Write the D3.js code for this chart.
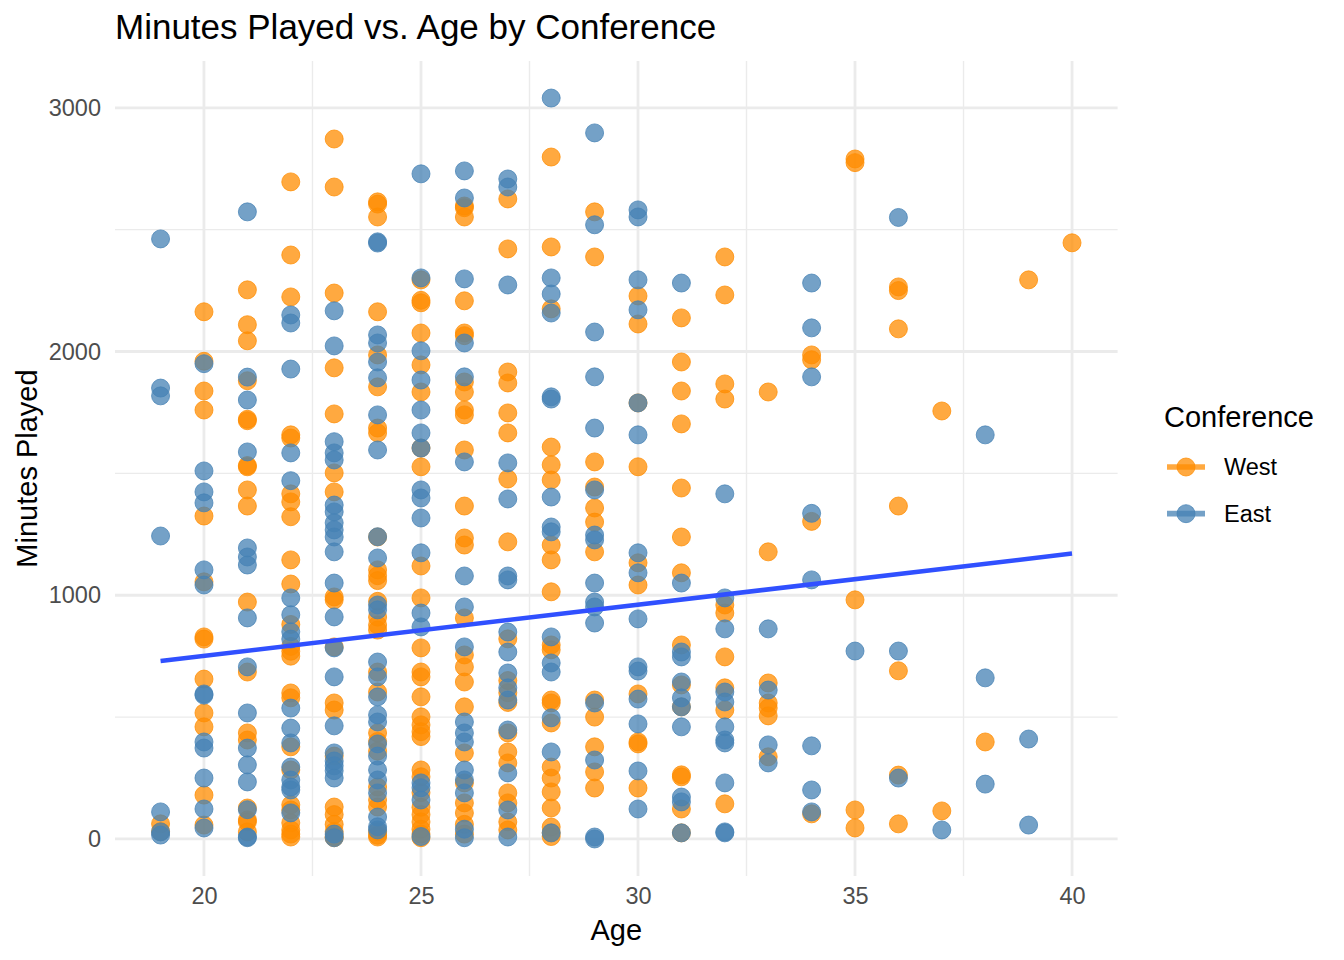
<!DOCTYPE html>
<meta charset="utf-8">
<head>
<style>
  body { margin: 0; background: #fff; }
  text { font-family: "Liberation Sans", Arial, Helvetica, sans-serif; }
</style>
</head>

<script src="https://cdn.jsdelivr.net/npm/d3@7"></script>

<div id="chart"></div>
<script>

  // ages on the x axis, one list of minutes per age for each conference
  var ages = [19, 20, 21, 22, 23, 24, 25, 26, 27, 28, 29, 30, 31, 32, 33, 34, 35, 36, 37, 38, 39, 40];

  var westMinutes = [
    [62, 30],
    [2163, 1960, 1838, 1760, 1325, 1055, 829, 820, 656, 517, 460, 180, 57],
    [2253, 2110, 2044, 1880, 1716, 1722, 1527, 1532, 1432, 1366, 972, 685, 435, 406, 127, 78, 70, 29],
    [2696, 2396, 2224, 1658, 1645, 1416, 1383, 1322, 1145, 1046, 880, 790, 770, 750, 599, 579, 378, 283, 140, 119, 66, 37, 20, 8],
    [2872, 2675, 2240, 1933, 1744, 1502, 1424, 993, 981, 788, 558, 529, 340, 131, 100, 60, 30, 10, 5],
    [2614, 2605, 2552, 2163, 1986, 1855, 1686, 1666, 1239, 1104, 1080, 1060, 975, 910, 878, 857, 685, 603, 435, 400, 360, 213, 160, 131, 30, 15, 8],
    [2294, 2210, 2200, 2076, 1945, 1834, 1604, 1527, 1120, 989, 784, 685, 665, 583, 501, 468, 440, 420, 283, 255, 190, 130, 100, 70, 40, 20, 5],
    [2597, 2590, 2552, 2208, 2076, 2065, 1875, 1834, 1760, 1740, 1596, 1366, 1235, 1206, 907, 755, 706, 644, 542, 353, 230, 148, 107, 60, 20],
    [2626, 2421, 1916, 1871, 1748, 1666, 1477, 1219, 821, 650, 600, 560, 435, 357, 312, 189, 148, 70, 37],
    [2798, 2429, 2175, 1608, 1535, 1473, 1206, 1145, 1014, 796, 776, 570, 558, 476, 295, 250, 193, 127, 49, 25, 10],
    [2573, 2388, 1547, 1444, 1358, 1300, 1178, 570, 500, 378, 275, 209],
    [2228, 2113, 1789, 1527, 1133, 1042, 595, 398, 390, 209],
    [2138, 1957, 1838, 1703, 1440, 1239, 1092, 796, 632, 542, 263, 255, 123, 25],
    [2388, 2232, 1867, 1805, 960, 927, 747, 620, 529, 144],
    [1834, 1178, 640, 558, 537, 505, 337],
    [1986, 1966, 1303, 103],
    [2790, 2775, 981, 119, 45],
    [2265, 2250, 2093, 1366, 690, 262, 62],
    [1756, 115],
    [398],
    [2294],
    [2446]
  ];

  var eastMinutes = [
    [2462, 1850, 1818, 1243, 111, 29, 16],
    [1950, 1510, 1424, 1379, 1104, 1042, 595, 590, 398, 373, 250, 123, 45],
    [2573, 1895, 1801, 1588, 1194, 1157, 1124, 907, 706, 517, 373, 304, 234, 120, 8, 5],
    [2150, 2117, 1928, 1584, 1470, 989, 920, 850, 820, 537, 455, 394, 295, 242, 213, 201, 107],
    [2167, 2023, 1630, 1584, 1555, 1370, 1342, 1297, 1268, 1239, 1178, 1050, 911, 784, 665, 464, 353, 320, 300, 280, 250, 20, 5],
    [2450, 2445, 2068, 2035, 1957, 1892, 1740, 1596, 1240, 1153, 960, 940, 726, 665, 583, 509, 480, 390, 340, 283, 242, 189, 90, 50, 37],
    [2729, 2302, 2003, 1883, 1760, 1666, 1604, 1432, 1399, 1317, 1174, 927, 870, 230, 210, 160, 10],
    [2741, 2630, 2298, 2035, 1896, 1547, 1079, 952, 788, 480, 435, 398, 283, 242, 189, 40, 5],
    [2708, 2675, 2273, 1543, 1395, 1079, 1063, 849, 767, 681, 620, 570, 447, 271, 119, 8],
    [3040, 2302, 2236, 2158, 1814, 1805, 1403, 1280, 1260, 829, 722, 685, 497, 357, 25],
    [2897, 2520, 2080, 1896, 1686, 1432, 1247, 1227, 1050, 972, 952, 886, 558, 324, 8, 0],
    [2581, 2552, 2294, 2171, 1789, 1658, 1174, 1092, 903, 706, 689, 574, 472, 279, 123],
    [2281, 1050, 767, 747, 644, 579, 542, 460, 172, 152, 25],
    [1416, 989, 862, 603, 562, 460, 406, 394, 230, 29, 25],
    [862, 611, 386, 312],
    [2281, 2097, 1896, 1336, 1063, 382, 201, 111],
    [771],
    [2550, 771, 250],
    [37],
    [1658, 661, 225],
    [410, 57],
    []
  ];

  // fitted lm line (ends at the youngest and oldest age)
  var trendAges = [19, 40];
  var trendMinutes = [730, 1171];

  var conferences = ["West", "East"];
  var confColors = ["#FF8C00", "#4682B4"];

  var xTicks = [20, 25, 30, 35, 40];
  var xMinor = [22.5, 27.5, 32.5, 37.5];
  var yTicks = [0, 1000, 2000, 3000];
  var yMinor = [500, 1500, 2500];

  var width = 1344, height = 960;
  var panel = {left: 115, right: 1117.6, top: 61, bottom: 876};

  // flatten into point records
  var points = [];
  ages.forEach(function(a, i) {
    westMinutes[i].forEach(function(m) { points.push({age: a, minutes: m, conf: "West"}); });
    eastMinutes[i].forEach(function(m) { points.push({age: a, minutes: m, conf: "East"}); });
  });

  var xPad = (d3.max(ages) - d3.min(ages)) * 0.05;
  var yMax = d3.max(points, d => d.minutes);
  var yPad = yMax * 0.05;

  var x = d3.scaleLinear()
      .domain([d3.min(ages) - xPad, d3.max(ages) + xPad])
      .range([panel.left, panel.right]);
  var y = d3.scaleLinear()
      .domain([0 - yPad, yMax + yPad])
      .range([panel.bottom, panel.top]);
  var color = d3.scaleOrdinal(conferences, confColors);

  var svg = d3.select("#chart").append("svg")
      .attr("width", width)
      .attr("height", height);

  // grid
  var grid = svg.append("g").attr("stroke", "#EBEBEB").attr("fill", "none");
  grid.selectAll(".xminor").data(xMinor).join("line")
      .attr("x1", d => x(d)).attr("x2", d => x(d))
      .attr("y1", panel.top).attr("y2", panel.bottom)
      .attr("stroke-width", 1.4);
  grid.selectAll(".yminor").data(yMinor).join("line")
      .attr("y1", d => y(d)).attr("y2", d => y(d))
      .attr("x1", panel.left).attr("x2", panel.right)
      .attr("stroke-width", 1.4);
  grid.selectAll(".xmajor").data(xTicks).join("line")
      .attr("x1", d => x(d)).attr("x2", d => x(d))
      .attr("y1", panel.top).attr("y2", panel.bottom)
      .attr("stroke-width", 2.8);
  grid.selectAll(".ymajor").data(yTicks).join("line")
      .attr("y1", d => y(d)).attr("y2", d => y(d))
      .attr("x1", panel.left).attr("x2", panel.right)
      .attr("stroke-width", 2.8);

  // axes, only the labels (theme_minimal has no axis lines or ticks)
  var xAxis = svg.append("g")
      .attr("transform", "translate(0," + panel.bottom + ")")
      .call(d3.axisBottom(x).tickValues(xTicks).tickSize(0).tickPadding(11));
  var yAxis = svg.append("g")
      .attr("transform", "translate(" + panel.left + ",0)")
      .call(d3.axisLeft(y).tickValues(yTicks).tickSize(0).tickPadding(14).tickFormat(d3.format("d")));
  [xAxis, yAxis].forEach(function(ax) {
    ax.select(".domain").remove();
    ax.selectAll("text")
      .attr("fill", "#4D4D4D")
      .style("font-size", "23.5px")
      .style("font-family", '"Liberation Sans", Arial, sans-serif');
  });

  // points
  svg.append("g").selectAll("circle")
      .data(points).join("circle")
      .attr("cx", d => x(d.age))
      .attr("cy", d => y(d.minutes))
      .attr("r", 9)
      .attr("fill", d => color(d.conf))
      .attr("fill-opacity", 0.75)
      .attr("stroke", d => color(d.conf))
      .attr("stroke-opacity", 0.75)
      .attr("stroke-width", 1);

  // trend line
  var trend = trendAges.map((a, i) => ({age: a, minutes: trendMinutes[i]}));
  svg.append("path")
      .datum(trend)
      .attr("fill", "none")
      .attr("stroke", "#3050FF")
      .attr("stroke-width", 4.5)
      .attr("d", d3.line().x(d => x(d.age)).y(d => y(d.minutes)));

  // titles
  svg.append("text")
      .attr("x", panel.left).attr("y", 39)
      .style("font-size", "35px")
      .attr("fill", "#000")
      .text("Minutes Played vs. Age by Conference");

  svg.append("text")
      .attr("x", (panel.left + panel.right) / 2).attr("y", 940)
      .attr("text-anchor", "middle")
      .style("font-size", "29px")
      .text("Age");

  svg.append("text")
      .attr("transform", "translate(37," + ((panel.top + panel.bottom) / 2) + ") rotate(-90)")
      .attr("text-anchor", "middle")
      .style("font-size", "29px")
      .text("Minutes Played");

  // legend
  var legend = svg.append("g").attr("transform", "translate(1164,0)");
  legend.append("text")
      .attr("x", 0).attr("y", 427)
      .style("font-size", "29px")
      .text("Conference");

  var keys = legend.selectAll(".key").data(conferences).join("g")
      .attr("transform", (d, i) => "translate(0," + (467 + i * 46.7) + ")");
  keys.append("line")
      .attr("x1", 3).attr("x2", 41)
      .attr("stroke", d => color(d))
      .attr("stroke-opacity", 0.75)
      .attr("stroke-width", 5.7);
  keys.append("circle")
      .attr("cx", 22).attr("r", 9)
      .attr("fill", d => color(d))
      .attr("fill-opacity", 0.75)
      .attr("stroke", d => color(d))
      .attr("stroke-opacity", 0.75);
  keys.append("text")
      .attr("x", 60).attr("dy", "0.35em")
      .style("font-size", "23.5px")
      .text(d => d);

</script>
